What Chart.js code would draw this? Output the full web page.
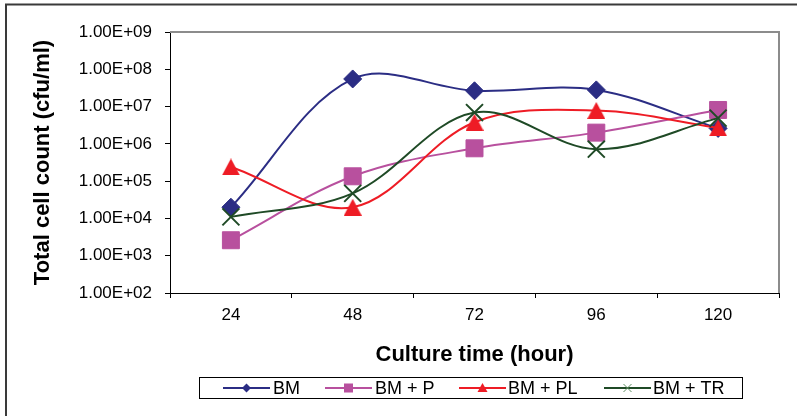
<!DOCTYPE html>
<html>
<head>
<meta charset="utf-8">
<script src="https://cdn.jsdelivr.net/npm/chart.js@4.4.1/dist/chart.umd.min.js"></script>
<style>
  html, body { margin: 0; padding: 0; background: #fff; }
  #wrap { width: 797px; height: 416px; }
</style>
</head>
<body>
<div id="wrap"><canvas id="chart" width="797" height="416"></canvas></div>
<script>
// culture time categories (hours)
const hours = ['24', '48', '72', '96', '120'];

// total cell count (cfu/ml)
const bm   = [2.0e4, 5.5e7, 2.65e7, 2.8e7, 2.6e6];
const bmP  = [2.6e3, 1.35e5, 7.6e5, 2.0e6, 8.1e6];
const bmPL = [2.4e5, 2.0e4, 3.8e6, 7.9e6, 2.7e6];
const bmTR = [1.1e4, 4.7e4, 6.9e6, 7.2e5, 4.9e6];

const yTickValues = [1e2, 1e3, 1e4, 1e5, 1e6, 1e7, 1e8, 1e9];
const yTickLabels = ['1.00E+02', '1.00E+03', '1.00E+04', '1.00E+05', '1.00E+06', '1.00E+07', '1.00E+08', '1.00E+09'];

const seriesLabels = ['BM', 'BM + P', 'BM + PL', 'BM + TR'];
const seriesColors = ['#2b2d84', '#b8509e', '#ee1c25', '#1f4a26'];

Chart.defaults.font.family = '"Liberation Sans", Arial, sans-serif';
Chart.defaults.color = '#000';

// Excel-like triangle, centred on its bounding box
function triangleMarker(color, w, h) {
  const c = document.createElement('canvas');
  c.width = w; c.height = h;
  const g = c.getContext('2d');
  g.fillStyle = color;
  g.beginPath();
  g.moveTo(w / 2, 0);
  g.lineTo(w, h);
  g.lineTo(0, h);
  g.closePath();
  g.fill();
  return c;
}

const frame = {
  id: 'frame',
  beforeDraw(chart) {
    const ctx = chart.ctx;
    ctx.save();
    ctx.fillStyle = '#fff';
    ctx.fillRect(0, 0, chart.width, chart.height);
    ctx.strokeStyle = '#3a3a3a';
    ctx.lineWidth = 2;
    ctx.beginPath();
    ctx.moveTo(5, 4.5);
    ctx.lineTo(chart.width, 4.5);
    ctx.moveTo(6, 4);
    ctx.lineTo(6, chart.height);
    ctx.stroke();
    ctx.restore();
  },
  beforeDatasetsDraw(chart) {
    const { ctx, chartArea: a } = chart;
    ctx.save();
    ctx.strokeStyle = '#8c8c8c';
    ctx.lineWidth = 2;
    ctx.beginPath();
    ctx.moveTo(a.left, a.top);
    ctx.lineTo(a.right, a.top);
    ctx.lineTo(a.right, a.bottom);
    ctx.stroke();
    ctx.restore();
  }
};

// boxed legend with line + marker samples
const boxLegend = {
  id: 'boxLegend',
  afterDraw(chart) {
    const ctx = chart.ctx;
    const lineX = [223, 325, 459, 604];
    const textX = [273, 375, 508, 653];
    const cy = 388;
    ctx.save();
    ctx.strokeStyle = '#000';
    ctx.lineWidth = 1;
    ctx.strokeRect(199.5, 377.5, 543, 21);
    ctx.font = '18px "Liberation Sans", Arial, sans-serif';
    ctx.textBaseline = 'middle';
    ctx.fillStyle = '#000';
    seriesLabels.forEach((lab, i) => {
      const col = seriesColors[i];
      const x0 = lineX[i], x1 = x0 + 47, mx = (x0 + x1) / 2;
      ctx.strokeStyle = col;
      ctx.lineWidth = 2;
      ctx.beginPath();
      ctx.moveTo(x0, cy);
      ctx.lineTo(x1, cy);
      ctx.stroke();
      ctx.fillStyle = col;
      ctx.beginPath();
      if (i === 0) {
        ctx.moveTo(mx, cy - 4.5); ctx.lineTo(mx + 4.5, cy); ctx.lineTo(mx, cy + 4.5); ctx.lineTo(mx - 4.5, cy);
        ctx.closePath(); ctx.fill();
      } else if (i === 1) {
        ctx.fillRect(mx - 4.5, cy - 4.5, 9, 9);
      } else if (i === 2) {
        ctx.moveTo(mx, cy - 5); ctx.lineTo(mx + 5, cy + 4); ctx.lineTo(mx - 5, cy + 4);
        ctx.closePath(); ctx.fill();
      } else {
        ctx.strokeStyle = '#5f8f63';
        ctx.lineWidth = 1;
        ctx.moveTo(mx - 4, cy - 4); ctx.lineTo(mx + 4, cy + 4);
        ctx.moveTo(mx + 4, cy - 4); ctx.lineTo(mx - 4, cy + 4);
        ctx.stroke();
      }
      ctx.fillStyle = '#000';
      ctx.fillText(lab, textX[i], cy + 1);
    });
    ctx.restore();
  }
};

const tension = 0.35;

new Chart(document.getElementById('chart'), {
  type: 'line',
  data: {
    labels: hours,
    datasets: [
      {
        label: seriesLabels[0], data: bm, order: 3,
        borderColor: seriesColors[0], backgroundColor: seriesColors[0],
        borderWidth: 2, tension,
        pointStyle: 'rectRot', pointRadius: 9, pointBorderWidth: 1,
        pointBackgroundColor: seriesColors[0], pointBorderColor: seriesColors[0]
      },
      {
        label: seriesLabels[1], data: bmP, order: 2,
        borderColor: seriesColors[1], backgroundColor: seriesColors[1],
        borderWidth: 2, tension,
        pointStyle: 'rect', pointRadius: 12, pointBorderWidth: 1,
        pointBackgroundColor: seriesColors[1], pointBorderColor: seriesColors[1]
      },
      {
        label: seriesLabels[2], data: bmPL, order: 1,
        borderColor: seriesColors[2], backgroundColor: seriesColors[2],
        borderWidth: 2, tension,
        pointStyle: triangleMarker(seriesColors[2], 18, 17), pointRadius: 9
      },
      {
        label: seriesLabels[3], data: bmTR, order: 0,
        borderColor: seriesColors[3], backgroundColor: seriesColors[3],
        borderWidth: 2, tension,
        pointStyle: 'crossRot', pointRadius: 12, pointBorderWidth: 2,
        pointBorderColor: seriesColors[3]
      }
    ]
  },
  options: {
    responsive: false,
    devicePixelRatio: 1,
    animation: false,
    events: [],
    layout: { padding: { left: 10, top: 32, right: 18, bottom: 38 } },
    plugins: {
      legend: { display: false },
      tooltip: { enabled: false }
    },
    scales: {
      x: {
        type: 'category',
        offset: true,
        grid: { offset: true, drawOnChartArea: false, tickLength: 5, color: '#000' },
        border: { color: '#000', width: 1 },
        ticks: { font: { size: 17 }, padding: 7, maxRotation: 0, color: '#000' },
        title: {
          display: true, text: 'Culture time (hour)', color: '#000',
          font: { size: 22, weight: 'bold' }, padding: { top: 0, bottom: 10 }
        },
        afterFit(s) { s.height = 85; }
      },
      y: {
        type: 'logarithmic',
        min: 1e2,
        max: 1e9,
        grid: { drawOnChartArea: false, tickLength: 5, color: '#000' },
        border: { color: '#000', width: 1 },
        afterBuildTicks(s) { s.ticks = yTickValues.map(v => ({ value: v })); },
        ticks: {
          autoSkip: false, font: { size: 17 }, padding: 13, color: '#000',
          callback: (v, i) => yTickLabels[i]
        },
        title: {
          display: true, text: 'Total cell count (cfu/ml)', color: '#000',
          font: { size: 22, weight: 'bold' }, padding: { top: 20, bottom: 0 }
        },
        afterFit(s) { s.width = 160; }
      }
    }
  },
  plugins: [frame, boxLegend]
});
</script>
</body>
</html>
